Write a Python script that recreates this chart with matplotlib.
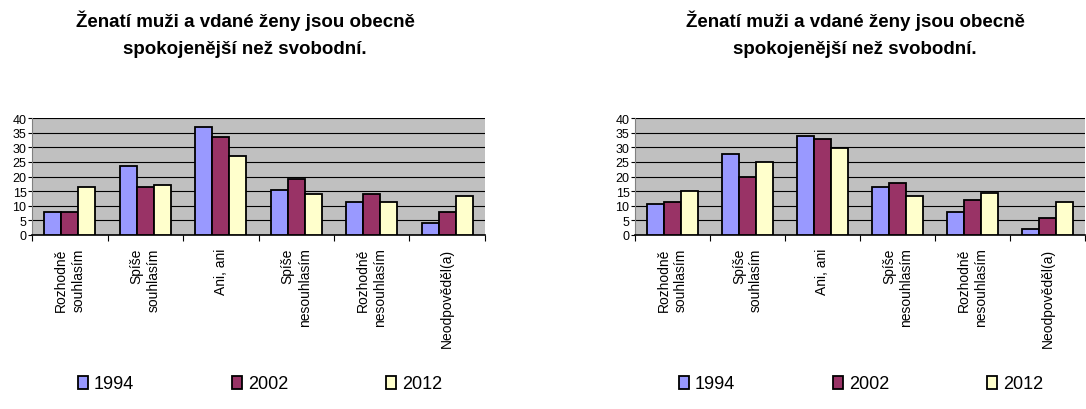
import numpy as np
import matplotlib
matplotlib.use('Agg')
import matplotlib.pyplot as plt

plt.rcParams['font.family'] = ['Liberation Sans', 'DejaVu Sans']

# Data
categories = ['Rozhodně\nsouhlasím', 'Spíše\nsouhlasím', 'Ani, ani',
              'Spíše\nnesouhlasím', 'Rozhodně\nnesouhlasím', 'Neodpověděl(a)']
years = ['1994', '2002', '2012']
colors = ['#9999FF', '#993366', '#FFFFCC']

left_1994 = [7.7, 23.5, 37.0, 15.5, 11.2, 4.2]
left_2002 = [7.7, 16.3, 33.5, 19.0, 14.0, 7.7]
left_2012 = [16.3, 17.0, 27.0, 14.0, 11.2, 13.3]

right_1994 = [10.5, 27.7, 34.0, 16.3, 7.7, 2.0]
right_2002 = [11.2, 19.8, 32.7, 17.7, 12.0, 5.7]
right_2012 = [15.0, 25.0, 29.8, 13.3, 14.2, 11.2]

title = 'Ženatí muži a vdané ženy jsou obecně\nspokojenější než svobodní.'

W, H = 1086, 410
fig = plt.figure(figsize=(W / 100, H / 100), dpi=100)


def draw_panel(x0, x1, series, title_x, legend_x):
    ax = fig.add_axes([x0 / W, (H - 236) / H, (x1 - x0) / W, (236 - 119) / H])
    ax.set_facecolor('#C0C0C0')
    x = np.arange(len(categories))
    bw = 0.225
    for i, vals in enumerate(series):
        ax.bar(x + (i - 1) * bw, vals, bw, color=colors[i], edgecolor='black',
               linewidth=1.3, label=years[i], zorder=3)
    ax.set_ylim(0, 40)
    ax.set_xlim(-0.5, len(categories) - 0.5)
    ax.set_yticks(range(0, 41, 5))
    ax.yaxis.grid(True, color='black', linewidth=0.8, zorder=1)
    ax.set_axisbelow(True)
    ax.tick_params(axis='y', labelsize=9, length=3, pad=1)
    # tick marks between categories, labels at category centres
    ax.set_xticks(np.arange(-0.5, len(categories), 1.0))
    ax.set_xticklabels([])
    ax.set_xticks(x, minor=True)
    ax.set_xticklabels(categories, minor=True, rotation=90, fontsize=10,
                       va='top', ha='center', multialignment='right',
                       linespacing=1.3)
    ax.tick_params(axis='x', which='minor', length=0, pad=9)
    ax.tick_params(axis='x', which='major', length=4, direction='out')
    for s in ['top', 'right']:
        ax.spines[s].set_visible(False)
    ax.spines['left'].set_color('#808080')
    ax.spines['bottom'].set_linewidth(1.2)
    fig.text(title_x / W, 1 - 34 / H, title, ha='center', va='center',
             fontsize=13.5, fontweight='bold', linespacing=1.75)
    ax.legend(loc='center', bbox_to_anchor=((legend_x - x0) / (x1 - x0), (236 - 385) / 117),
              ncol=3, frameon=False, fontsize=13, columnspacing=5.4,
              handlelength=0.55, handleheight=0.7, handletextpad=0.35)
    return ax


draw_panel(32, 485, [left_1994, left_2002, left_2012], 245, 260)
draw_panel(635, 1085, [right_1994, right_2002, right_2012], 855, 861)

fig.savefig('out.png', dpi=100)
